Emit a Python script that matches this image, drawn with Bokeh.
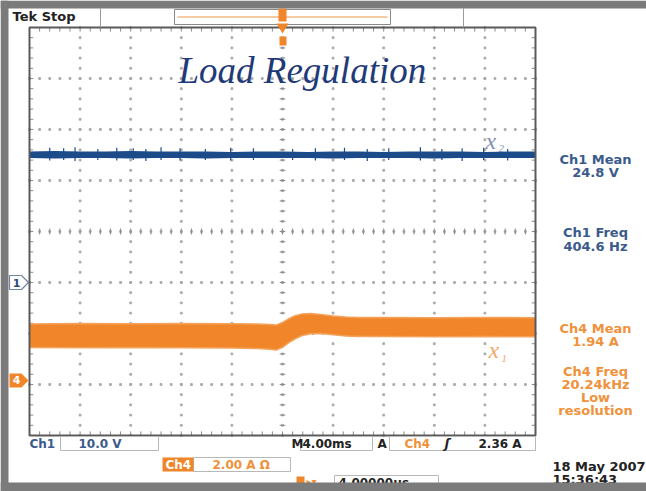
from bokeh.plotting import figure
from bokeh.models import Range1d
from bokeh.core.properties import value
from bokeh.embed import file_html
from bokeh.resources import INLINE
import numpy as np

# ---------------- data ----------------
time_ms_per_div = 4.0
ch1_V_per_div = 10.0
ch1_ground_div = -1.0
ch4_A_per_div = 2.0
ch4_ground_div = -2.92

ch1_time_ms = [-20, -18, -16, -14, -12, -10, -8, -6, -4, -2, 0, 2, 4, 6, 8, 10, 12, 14, 16, 18, 20]
ch1_upper_V = [25.7, 25.8, 25.7, 25.7, 25.8, 25.7, 25.7, 25.7, 25.6, 25.7, 25.7, 25.6, 25.7, 25.7, 25.6, 25.7, 25.7, 25.7, 25.6, 25.7, 25.7]
ch1_lower_V = [24.4, 24.3, 24.4, 24.4, 24.3, 24.4, 24.4, 24.3, 24.4, 24.4, 24.4, 24.4, 24.3, 24.4, 24.4, 24.4, 24.3, 24.4, 24.4, 24.4, 24.4]

ch1_spike_time_ms = [-18.4, -17.3, -16.4, -14.6, -13.1, -11.8, -10.8, -9.6, -8.1, -6.1, -4.1, -2.3,
                     0.8, 2.6, 4.9, 6.7, 8.4, 10.9, 12.6, 14.2, 15.9, 17.8]
ch1_spike_high_V = [26.4, 26.3, 26.5, 26.2, 26.4, 26.3, 26.2, 26.5, 26.3, 26.2, 26.4, 26.3,
                    26.2, 26.3, 26.4, 26.2, 26.3, 26.5, 26.2, 26.3, 26.4, 26.2]
ch1_spike_low_V = [23.9, 24.0, 23.8, 24.0, 23.9, 24.0, 23.8, 24.0, 23.9, 24.0, 23.9, 24.0,
                   24.0, 23.9, 24.0, 23.8, 24.0, 23.9, 24.0, 23.8, 24.0, 23.9]

ch4_time_ms = [-20, -16, -12, -8, -4, -2, -1, -0.5, 0, 0.5, 1.0, 1.5, 2.2, 3.0, 4.0, 5.0, 6, 8, 12, 16, 20]
ch4_upper_A = [2.21, 2.23, 2.22, 2.23, 2.22, 2.21, 2.19, 2.17, 2.27, 2.42, 2.54, 2.60, 2.62, 2.59, 2.53, 2.49, 2.47, 2.47, 2.46, 2.47, 2.46]
ch4_lower_A = [1.29, 1.28, 1.29, 1.28, 1.27, 1.25, 1.22, 1.19, 1.30, 1.48, 1.63, 1.75, 1.83, 1.84, 1.79, 1.74, 1.72, 1.72, 1.71, 1.72, 1.71]

title_text = "Load Regulation"
readout_ch1 = ["Ch1 Mean", "24.8 V", "Ch1 Freq", "404.6 Hz"]
readout_ch4 = ["Ch4 Mean", "1.94 A", "Ch4 Freq", "20.24kHz", "Low", "resolution"]
date_lines = ["18 May 2007", "15:36:43"]

# ---------------- layout (pixels of the canvas) ----------------
W, H = 646, 491
GX0, GX1 = 29.0, 535.0      # graticule left/right
GY0, GY1 = 27.0, 435.0      # graticule top/bottom
DX = (GX1 - GX0) / 10.0
DY = (GY1 - GY0) / 8.0
CX = (GX0 + GX1) / 2.0

ms_per_px = time_ms_per_div / DX
div_per_px = 1.0 / DY
ms_start = (0 - CX) * ms_per_px
ms_end = (W - CX) * ms_per_px
div_top = 4 + GY0 * div_per_px
div_bot = 4 - (H - GY0) * div_per_px

p = figure(width=W, height=H, x_range=Range1d(0, W), y_range=Range1d(H, 0),
           output_backend="svg", toolbar_location=None, min_border=0,
           x_axis_type=None, y_axis_type=None)
p.grid.visible = False
p.outline_line_color = None
p.background_fill_color = "white"
p.border_fill_color = "white"
p.extra_x_ranges = {"ms": Range1d(ms_start, ms_end)}
p.extra_y_ranges = {
    "div": Range1d(div_bot, div_top),
    "ch1": Range1d((div_bot - ch1_ground_div) * ch1_V_per_div, (div_top - ch1_ground_div) * ch1_V_per_div),
    "ch4": Range1d((div_bot - ch4_ground_div) * ch4_A_per_div, (div_top - ch4_ground_div) * ch4_A_per_div),
}

GRID = "#ababab"
BORDER = "#5a5a5a"
BLUE = "#1c4b8a"
ORANGE = "#f08629"
RB = "#3b5a8c"
RO = "#f0913c"
FRAME_GRAY = "#7b7b7b"

# ---------------- graticule ----------------
xs_dots, ys_dots = [], []
for t in np.arange(-16, 17, 4):
    for d in np.arange(-4, 4.01, 0.2):
        xs_dots.append(t); ys_dots.append(d)
for d in np.arange(-3, 4, 1):
    for t in np.arange(-20, 20.01, 0.8):
        xs_dots.append(t); ys_dots.append(d)
p.scatter(xs_dots, ys_dots, size=1.8, color=GRID, marker="square", x_range_name="ms", y_range_name="div")

tk = np.arange(-4, 4.01, 0.2)
tt = np.arange(-20, 20.01, 0.8)
TICK = "#8c8c8c"
p.segment(x0=[-0.22] * len(tk), y0=list(tk), x1=[0.22] * len(tk), y1=list(tk), line_color=TICK,
          x_range_name="ms", y_range_name="div")
p.segment(x0=list(tt), y0=[-0.06] * len(tt), x1=list(tt), y1=[0.06] * len(tt), line_color=TICK,
          x_range_name="ms", y_range_name="div")
p.segment(x0=[-20] * len(tk), y0=list(tk), x1=[-19.7] * len(tk), y1=list(tk), line_color=TICK,
          x_range_name="ms", y_range_name="div")
p.segment(x0=[20] * len(tk), y0=list(tk), x1=[19.7] * len(tk), y1=list(tk), line_color=TICK,
          x_range_name="ms", y_range_name="div")
p.segment(x0=list(tt), y0=[4] * len(tt), x1=list(tt), y1=[3.92] * len(tt), line_color=TICK,
          x_range_name="ms", y_range_name="div")
p.segment(x0=list(tt), y0=[-4] * len(tt), x1=list(tt), y1=[-3.92] * len(tt), line_color=TICK,
          x_range_name="ms", y_range_name="div")

# ---------------- traces ----------------
p.varea(x=ch1_time_ms, y1=ch1_lower_V, y2=ch1_upper_V, fill_color=BLUE,
        x_range_name="ms", y_range_name="ch1")
p.segment(x0=ch1_spike_time_ms, y0=ch1_spike_low_V, x1=ch1_spike_time_ms, y1=ch1_spike_high_V,
          line_color=BLUE, line_width=1.2, x_range_name="ms", y_range_name="ch1")

p.varea(x=ch4_time_ms, y1=ch4_lower_A, y2=ch4_upper_A, fill_color=ORANGE,
        x_range_name="ms", y_range_name="ch4")
p.line(ch4_time_ms, ch4_upper_A, line_color="#f4a35c", line_width=1.5, x_range_name="ms", y_range_name="ch4")
p.line(ch4_time_ms, ch4_lower_A, line_color="#f4a35c", line_width=1.5, x_range_name="ms", y_range_name="ch4")

# graticule border
p.quad(left=[GX0], right=[GX1], top=[GY0], bottom=[GY1], fill_color=None, line_color=BORDER, line_width=2)


def txt(x, y, s, color, size="12px", font="DejaVu Sans", style="bold", align="left", baseline="middle"):
    p.text(x=[x], y=[y], text=[s], text_color=color, text_font=value(font), text_font_size=size,
           text_font_style=style, text_align=align, text_baseline=baseline)


# ---------------- title and trace labels ----------------
txt(178, 70, title_text, "#1f3a78", size="37px", font="Liberation Serif", style="italic", baseline="alphabetic")
txt(485, 140, "x", "#8391b4", size="24px", font="Liberation Serif", style="italic")
txt(498, 148, "2", "#8391b4", size="11px", font="Liberation Serif", style="italic")
txt(488, 349, "x", "#f2a867", size="24px", font="Liberation Serif", style="italic")
txt(501, 358, "1", "#f2a867", size="11px", font="Liberation Serif", style="italic")

# ---------------- top bar ----------------
txt(12, 16, "Tek Stop", "#222222", size="13px")
p.segment(x0=[100, 463], y0=[8, 8], x1=[100, 463], y1=[27, 27], line_color="#9a9a9a", line_width=1)
p.quad(left=[174], right=[390], top=[9], bottom=[24], fill_color="white", line_color="#8a8a8a", line_width=1)
p.segment(x0=[177], y0=[16.5], x1=[387], y1=[16.5], line_color="#f6cba4", line_width=2)
p.quad(left=[278], right=[286], top=[8], bottom=[21], fill_color=ORANGE, line_color=None)
p.patches(xs=[[276, 288, 282]], ys=[[23, 23, 33]], fill_color=ORANGE, line_color=None)
p.quad(left=[279], right=[286], top=[36], bottom=[45], fill_color=ORANGE, line_color=None)

# ---------------- ground markers ----------------
y1g = GY0 + (4 - ch1_ground_div) * DY
y4g = GY0 + (4 - ch4_ground_div) * DY
p.patches(xs=[[9, 21, 28, 21, 9]], ys=[[y1g - 7, y1g - 7, y1g, y1g + 7, y1g + 7]],
          fill_color="white", line_color="#6f84a8", line_width=1.2)
txt(16, y1g, "1", "#2b4a7a", size="11px", align="center")
p.patches(xs=[[9, 21, 28, 21, 9]], ys=[[y4g - 7, y4g - 7, y4g, y4g + 7, y4g + 7]],
          fill_color=ORANGE, line_color=None)
txt(16, y4g, "4", "white", size="11px", align="center")

# ---------------- right readouts ----------------
for s, y in zip(readout_ch1, [159, 172, 232, 246]):
    txt(595, y, s, RB, size="13px", align="center")
for s, y in zip(readout_ch4, [328, 341, 371, 384, 397, 410]):
    txt(595, y, s, RO, size="13px", align="center")
for s, y in zip(date_lines, [466, 479]):
    txt(552, y, s, "#222222", size="13px")

# ---------------- bottom readouts ----------------
BOXC = "#b8b8b8"
txt(29, 443, "Ch1", RB, size="12px")
p.quad(left=[60, 300, 389, 193, 334], right=[158, 372, 535, 290, 438],
       top=[436, 436, 436, 457, 475], bottom=[450, 450, 450, 471, 489],
       fill_color="white", line_color=BOXC, line_width=1)
txt(78, 443, "10.0 V", RB, size="12px")
txt(291, 443, "M", "#222222", size="12px")
txt(302, 443, "4.00ms", "#222222", size="12px")
txt(377, 443, "A", "#222222", size="12px")
txt(404, 443, "Ch4", RO, size="12px")
txt(444, 443, "ʃ", "#222222", size="13px", style="bold italic")
txt(478, 443, "2.36 A", "#222222", size="12px")
p.quad(left=[162], right=[193], top=[457], bottom=[471], fill_color=ORANGE, line_color=None)
txt(165, 464, "Ch4", "white", size="12px")
txt(212, 464, "2.00 A Ω", RO, size="12px")
p.quad(left=[296], right=[304], top=[476], bottom=[485], fill_color=ORANGE, line_color=None)
txt(306, 481, "▸▾", RO, size="10px")
txt(338, 482, "4.00000μs", "#222222", size="12px")

# ---------------- grey screen frame ----------------
p.quad(left=[0, 0, 0], right=[W, 8, W], top=[0, 0, 482], bottom=[8, H, H],
       fill_color=FRAME_GRAY, line_color=None)

html = file_html(p, INLINE)
open("out.html", "w").write(html)
